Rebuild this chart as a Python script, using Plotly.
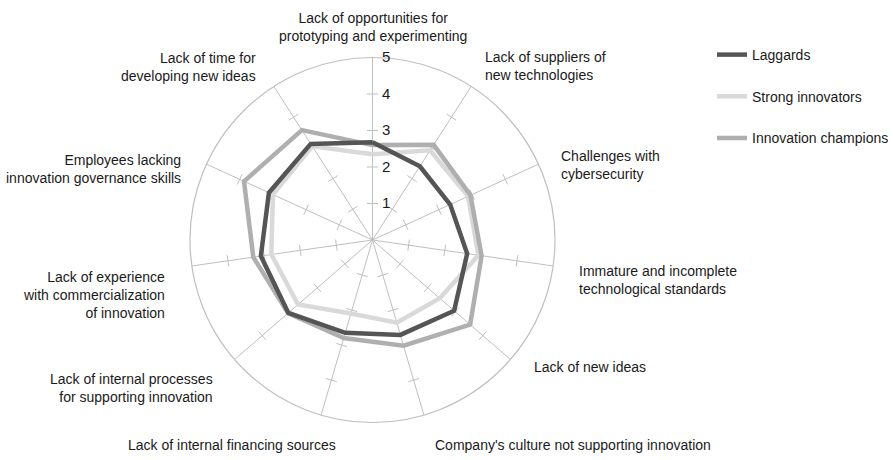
import plotly.graph_objects as go

# ---------------- data ----------------
categories = [
    "Lack of opportunities for<br>prototyping and experimenting",
    "Lack of suppliers of<br>new technologies",
    "Challenges with<br>cybersecurity",
    "Immature and incomplete<br>technological standards",
    "Lack of new ideas",
    "Company's culture not supporting innovation",
    "Lack of internal financing sources",
    "Lack of internal processes<br>for supporting innovation",
    "Lack of experience<br>with commercialization<br>of innovation",
    "Employees lacking<br>innovation governance skills",
    "Lack of time for<br>developing new ideas",
]
laggards = [2.68, 2.40, 2.34, 2.62, 2.96, 2.71, 2.65, 3.05, 3.09, 3.12, 3.13]
strong_innovators = [2.35, 2.92, 2.88, 2.93, 2.44, 2.36, 2.10, 2.70, 2.80, 3.00, 3.05]
innovation_champions = [2.60, 3.10, 2.95, 3.02, 3.54, 3.02, 2.80, 3.06, 3.30, 3.87, 3.58]
radial_ticks = [1, 2, 3, 4, 5]

# ---------------- layout / style ----------------
W, H = 893, 460
FONT = "Liberation Sans, Arial, sans-serif"
FS = 14
TXT = "#1a1a1a"
GRID = "#bfbfbf"
# (x px, y px, xanchor, align) for each category label
label_pos = [
    (372.5, 27, "center", "center"),
    (483, 66, "left", "left"),
    (559, 165, "left", "left"),
    (577, 280, "left", "left"),
    (532, 367, "left", "left"),
    (433, 445, "left", "left"),
    (338, 445, "right", "right"),
    (215, 388, "right", "right"),
    (167, 295, "right", "right"),
    (183, 169, "right", "right"),
    (258, 67, "right", "right"),
]

n = len(categories)
step = 360.0 / n


def closed(v):
    return list(v) + [v[0]]


fig = go.Figure()

# tick marks across every spoke
tick_theta, tick_r, tick_ang = [], [], []
for k, c in enumerate(categories):
    for r in radial_ticks[:-1]:
        tick_theta.append(c)
        tick_r.append(r)
        tick_ang.append(k * step)
fig.add_trace(go.Scatterpolar(
    r=tick_r, theta=tick_theta, mode="markers", showlegend=False, hoverinfo="skip",
    marker=dict(symbol="line-ew", size=8, angle=tick_ang,
                line=dict(width=1, color=GRID), color=GRID),
))

series = [
    ("Strong innovators", strong_innovators, "#d9d9d9", 2),
    ("Innovation champions", innovation_champions, "#afafaf", 3),
    ("Laggards", laggards, "#555555", 1),
]
for name, vals, col, rank in series:
    fig.add_trace(go.Scatterpolar(
        r=closed(vals), theta=closed(categories), mode="lines", name=name,
        line=dict(color=col, width=4.5), legendrank=rank, legendgroup=name,
    ))

annotations = []
for c, (x, y, xa, al) in zip(categories, label_pos):
    annotations.append(dict(
        text=c, x=x / W, y=1 - y / H, xref="paper", yref="paper",
        xanchor=xa, yanchor="middle", align=al, showarrow=False,
        font=dict(family=FONT, size=FS, color=TXT),
    ))

cx, cy, rad = 372.5, 240, 182.5
fig.update_layout(
    width=W, height=H,
    margin=dict(l=0, r=0, t=0, b=0, autoexpand=False),
    paper_bgcolor="white",
    font=dict(family=FONT, size=FS, color=TXT),
    polar=dict(
        domain=dict(x=[(cx - rad) / W, (cx + rad) / W],
                    y=[1 - (cy + rad) / H, 1 - (cy - rad) / H]),
        bgcolor="white",
        radialaxis=dict(range=[0, 5], tickvals=radial_ticks, ticks="outside",
                        ticklen=6, tickcolor="rgba(0,0,0,0)", angle=90,
                        tickangle=90, showline=False, showgrid=False,
                        tickfont=dict(family=FONT, size=15, color=TXT)),
        angularaxis=dict(direction="clockwise", rotation=90, showticklabels=False,
                         ticks="", showline=True, linecolor=GRID, linewidth=1.2,
                         gridcolor=GRID, gridwidth=1,
                         categoryorder="array", categoryarray=categories),
    ),
    legend=dict(x=712 / W, y=1 - 39 / H, xanchor="left", yanchor="top",
                font=dict(family=FONT, size=FS, color=TXT),
                tracegroupgap=20.5, bgcolor="rgba(0,0,0,0)"),
    annotations=annotations,
)

fig.write_html("out.html",
               config={"displayModeBar": False},
               post_script="document.body.style.margin='0';")
